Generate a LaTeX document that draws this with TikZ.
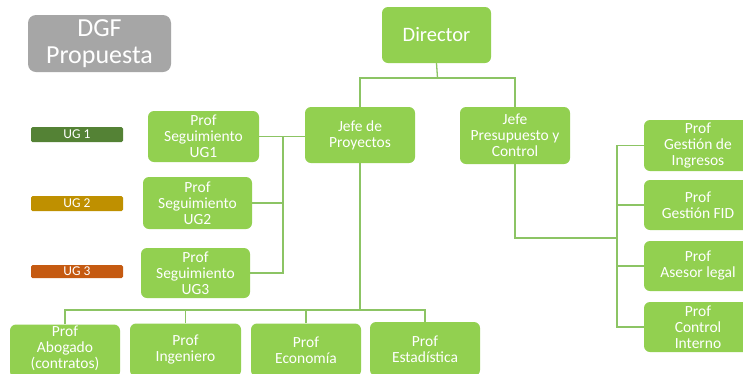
\documentclass[tikz,border=0pt]{standalone}
\usepackage{fontspec}
\setmainfont{Carlito}
\definecolor{boxgreen}{HTML}{92D050}
\definecolor{linegreen}{HTML}{8CC464}
\definecolor{titlegray}{HTML}{A6A6A6}
\definecolor{ugone}{HTML}{548235}
\definecolor{ugtwo}{HTML}{BF9000}
\definecolor{ugthree}{HTML}{C55A11}
\tikzset{
  boxtext/.style={text=white, align=center, inner sep=0pt, font=\fontsize{15.5}{16}\selectfont},
  orgbox/.style={boxtext, fill=boxgreen, draw=none, rounded corners=6pt},
  ugtag/.style={draw=none, rounded corners=1.5pt, text=white, inner sep=0pt, minimum width=92pt,
    font=\fontsize{13.5}{14}\selectfont},
  conn/.style={draw=linegreen, line width=1.3pt}
}
\begin{document}
\begin{tikzpicture}[x=1pt,y=-1pt]
\useasboundingbox (0,0) rectangle (743,373);
\clip (0,0) rectangle (743,373);
\fill[white] (0,0) rectangle (743,373);

% title
\node[orgbox, fill=titlegray, minimum width=143pt, minimum height=57pt, rounded corners=8pt,
      font=\fontsize{26}{27}\selectfont] (dgf) at (99.5,43.5) {DGF\\Propuesta};

% legend tags
\node[ugtag, fill=ugone, minimum height=15pt] (ug1) at (77,134.5) {UG 1};
\node[ugtag, fill=ugtwo, minimum height=15pt] (ug2) at (77,203.5) {UG 2};
\node[ugtag, fill=ugthree, minimum height=13pt] (ug3) at (77,271.5) {UG 3};

% main boxes
\node[orgbox, minimum width=109pt, minimum height=56pt, font=\fontsize{20.5}{22}\selectfont] (dir) at (436.5,35) {Director};
\node[orgbox, minimum width=110pt, minimum height=56pt] (jp) at (360,135) {Jefe de\\Proyectos};
\node[orgbox, minimum width=110pt, minimum height=57pt] (jpc) at (515,135.5) {Jefe\\Presupuesto y\\Control};

% seguimiento
\node[orgbox, minimum width=111pt, minimum height=51pt] (s1) at (203.5,136.5) {Prof\\Seguimiento\\UG1};
\node[orgbox, minimum width=109pt, minimum height=52pt] (s2) at (197.5,203) {Prof\\Seguimiento\\UG2};
\node[orgbox, minimum width=109pt, minimum height=50pt] (s3) at (195.5,273) {Prof\\Seguimiento\\UG3};

% bottom row
\node[orgbox, minimum width=110pt, minimum height=53pt] (b1) at (65,351) {};
\node[boxtext] (b1t) at (65,348.5) {Prof\\Abogado\\(contratos)};
\node[orgbox, minimum width=111pt, minimum height=53pt] (b2) at (185.5,350) {Prof\\Ingeniero};
\node[orgbox, minimum width=110pt, minimum height=53pt] (b3) at (306,350) {Prof\\Economía};
\node[orgbox, minimum width=110pt, minimum height=54pt] (b4) at (425,349) {Prof\\Estadística};

% right column
\node[orgbox, minimum width=108pt, minimum height=51pt] (r1) at (698,145.5) {Prof\\Gestión de\\Ingresos};
\node[orgbox, minimum width=108pt, minimum height=50pt] (r2) at (698,205) {Prof\\Gestión FID};
\node[orgbox, minimum width=108pt, minimum height=50pt] (r3) at (698,266) {Prof\\Asesor legal};
\node[orgbox, minimum width=108pt, minimum height=50pt] (r4) at (698,327) {Prof\\Control\\Interno};

% connectors
\coordinate (dj) at (437.5,78);
\draw[conn] (dir.south) -- (dj);
\draw[conn] (jp.north) |- (dj) -| (jpc.north);

\coordinate (sv) at (283,136);
\draw[conn] (s1.east) -- (jp.west |- s1.east);
\draw[conn] (s2.east) -| (sv);
\draw[conn] (s3.east) -| (sv);

\coordinate (bb) at (360,310);
\draw[conn] (jp.south) -- (bb);
\draw[conn] (b1.north) |- (bb) -| (b4.north);
\draw[conn] (b2.north) -- (b2.north |- bb);
\draw[conn] (b3.north) -- (b3.north |- bb);

\coordinate (rv) at (617,238);
\draw[conn] (jpc.south) |- (rv);
\draw[conn] (r1.west) -| (rv |- r4.west) -- (r4.west);
\draw[conn] (r2.west) -- (rv |- r2.west);
\draw[conn] (r3.west) -- (rv |- r3.west);
\end{tikzpicture}
\end{document}
